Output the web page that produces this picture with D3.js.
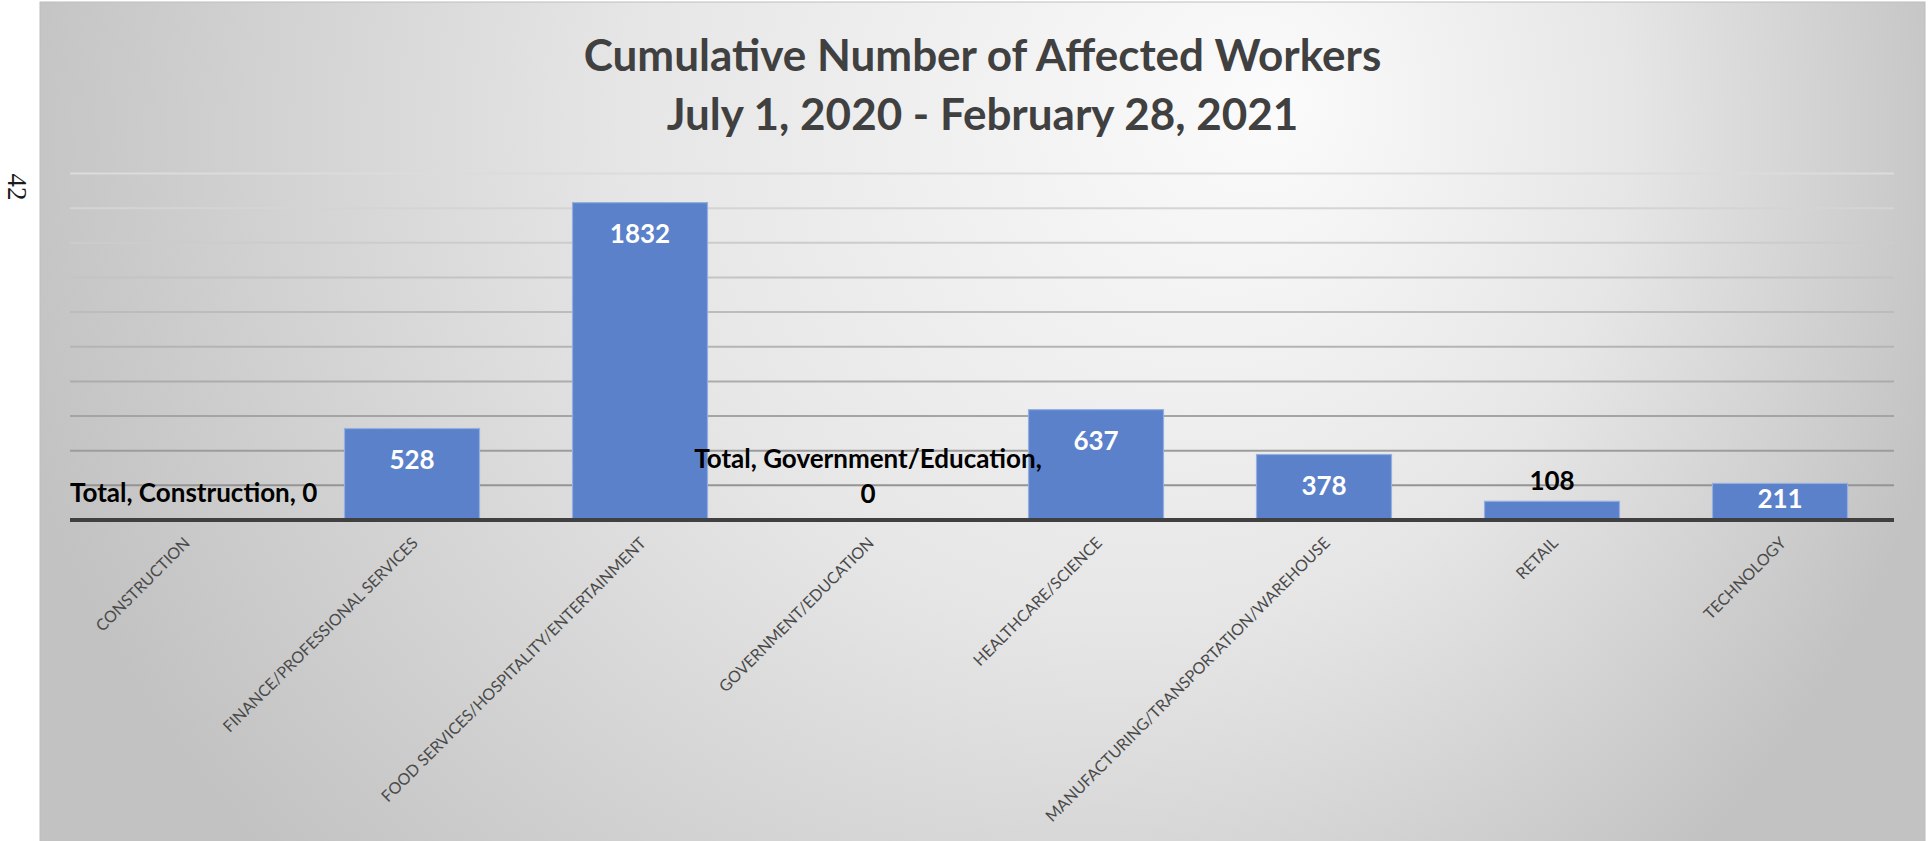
<!DOCTYPE html>
<html>
<head>
<meta charset="utf-8">
<script src="https://cdn.jsdelivr.net/npm/d3@7"></script>
<style>
  html, body { margin: 0; padding: 0; background: #ffffff; }
  svg { display: block; }
</style>
</head>
<body>
<svg id="chart" width="1932" height="841"></svg>
<script>
// ---- data ----
const seriesName = "Total";
const categories = [
  "Construction",
  "Finance/Professional Services",
  "Food Services/Hospitality/Entertainment",
  "Government/Education",
  "Healthcare/Science",
  "Manufacturing/Transportation/Warehouse",
  "Retail",
  "Technology"
];
const values = [0, 528, 1832, 0, 637, 378, 108, 211];
const gridValues = [0, 200, 400, 600, 800, 1000, 1200, 1400, 1600, 1800, 2000];
const titleLines = ["Cumulative Number of Affected Workers", "July 1, 2020 - February 28, 2021"];
const pageNumber = "42";

const rows = categories.map((c, i) => ({ category: c, value: values[i] }));

// ---- layout ----
const panel = { x: 40, y: 2, w: 1885, h: 850 };
const plot = { left: 70, right: 1894, top: 173.5, bottom: 520 };

const svg = d3.select("#chart");
const defs = svg.append("defs");

// soft radial fill of the chart area, brightest near the upper middle
const grad = defs.append("radialGradient")
  .attr("id", "panelFill")
  .attr("gradientUnits", "userSpaceOnUse")
  .attr("cx", 980).attr("cy", 150).attr("r", 1000)
  .attr("fx", 1280).attr("fy", 100);
grad.append("stop").attr("offset", 0).attr("stop-color", "#fbfbfb");
grad.append("stop").attr("offset", 0.5).attr("stop-color", "#e6e6e6");
grad.append("stop").attr("offset", 1).attr("stop-color", "#c2c2c2");

svg.append("rect")
  .attr("x", panel.x).attr("y", panel.y)
  .attr("width", panel.w).attr("height", panel.h)
  .attr("fill", "url(#panelFill)")
  .attr("stroke", "#bdbdbd").attr("stroke-width", 1);

// page number printed sideways in the margin
svg.append("text")
  .attr("transform", "translate(17,187) rotate(90)")
  .attr("text-anchor", "middle")
  .attr("dominant-baseline", "central")
  .attr("font-family", "'Liberation Serif', serif")
  .attr("font-size", 27)
  .attr("fill", "#1a1a1a")
  .text(pageNumber);

// ---- scales ----
const x = d3.scaleBand()
  .domain(categories)
  .range([plot.left, plot.right])
  .paddingInner(0.408)
  .paddingOuter(0.204);

const y = d3.scaleLinear()
  .domain([0, 2000])
  .range([plot.bottom, plot.top]);

// ---- gridlines (darker toward the baseline) ----
const gridShade = d3.scaleLinear()
  .domain([2000, 0])
  .range(["#dcdcdc", "#8c8c8c"])
  .interpolate(d3.interpolateRgb);

svg.append("g")
  .selectAll("line")
  .data(gridValues.filter(v => v > 0))
  .join("line")
  .attr("x1", plot.left).attr("x2", plot.right)
  .attr("y1", d => y(d)).attr("y2", d => y(d))
  .attr("stroke", d => gridShade(d))
  .attr("stroke-width", 2);

// ---- title ----
const title = svg.append("text")
  .attr("text-anchor", "middle")
  .attr("font-family", "Lato, 'Open Sans', sans-serif")
  .attr("font-weight", 700)
  .attr("font-size", 44)
  .attr("fill", "#404040");
title.selectAll("tspan")
  .data(titleLines)
  .join("tspan")
  .attr("x", panel.x + panel.w / 2)
  .attr("y", (d, i) => 71 + i * 59)
  .text(d => d);

// ---- bars ----
svg.append("g")
  .selectAll("rect")
  .data(rows.filter(d => d.value > 0))
  .join("rect")
  .attr("x", d => x(d.category))
  .attr("y", d => y(d.value))
  .attr("width", x.bandwidth())
  .attr("height", d => y(0) - y(d.value))
  .attr("fill", "#5a81c9")
  .attr("stroke", "#93afe0")
  .attr("stroke-width", 1.2);

// ---- category axis ----
svg.append("line")
  .attr("x1", plot.left).attr("x2", plot.right)
  .attr("y1", y(0)).attr("y2", y(0))
  .attr("stroke", "#404040")
  .attr("stroke-width", 4);

svg.append("g")
  .selectAll("text")
  .data(categories)
  .join("text")
  .attr("transform", d => `translate(${x(d) + x.bandwidth() / 2 + 7},${plot.bottom + 24}) rotate(-45)`)
  .attr("text-anchor", "end")
  .attr("font-family", "Lato, 'Open Sans', sans-serif")
  .attr("font-size", 16)
  .attr("fill", "#4a4a4a")
  .text(d => d.toUpperCase());

// ---- data labels ----
const labels = svg.append("g")
  .attr("font-family", "Lato, 'Open Sans', sans-serif")
  .attr("font-weight", 700)
  .attr("font-size", 26)
  .attr("text-anchor", "middle");

rows.forEach(d => {
  const cx = x(d.category) + x.bandwidth() / 2;
  const top = y(d.value);
  const barH = y(0) - top;
  if (d.value === 0) {
    // empty category: label shows series, category and value, kept inside the plot
    const text = `${seriesName}, ${d.category}, ${d.value}`;
    const t = labels.append("text").attr("fill", "#000").attr("dominant-baseline", "central");
    t.text(text);
    const w = t.node().getComputedTextLength();
    const maxW = x.step() * 1.45;
    if (w <= maxW) {
      const left = Math.max(plot.left, cx - w / 2);
      t.attr("x", left + w / 2).attr("y", plot.bottom - 28);
    } else {
      t.text(null);
      const lines = [`${seriesName}, ${d.category},`, `${d.value}`];
      t.selectAll("tspan")
        .data(lines)
        .join("tspan")
        .attr("x", cx)
        .attr("y", (l, i) => plot.bottom - 62 + i * 35)
        .text(l => l);
    }
  } else if (barH < 26) {
    // too short for an inside label: place it just above the bar
    labels.append("text")
      .attr("fill", "#000")
      .attr("dominant-baseline", "central")
      .attr("x", cx).attr("y", top - 21)
      .text(d.value);
  } else {
    labels.append("text")
      .attr("fill", "#ffffff")
      .attr("dominant-baseline", "central")
      .attr("x", cx).attr("y", Math.min(top + 30, plot.bottom - 22))
      .text(d.value);
  }
});
</script>
</body>
</html>
